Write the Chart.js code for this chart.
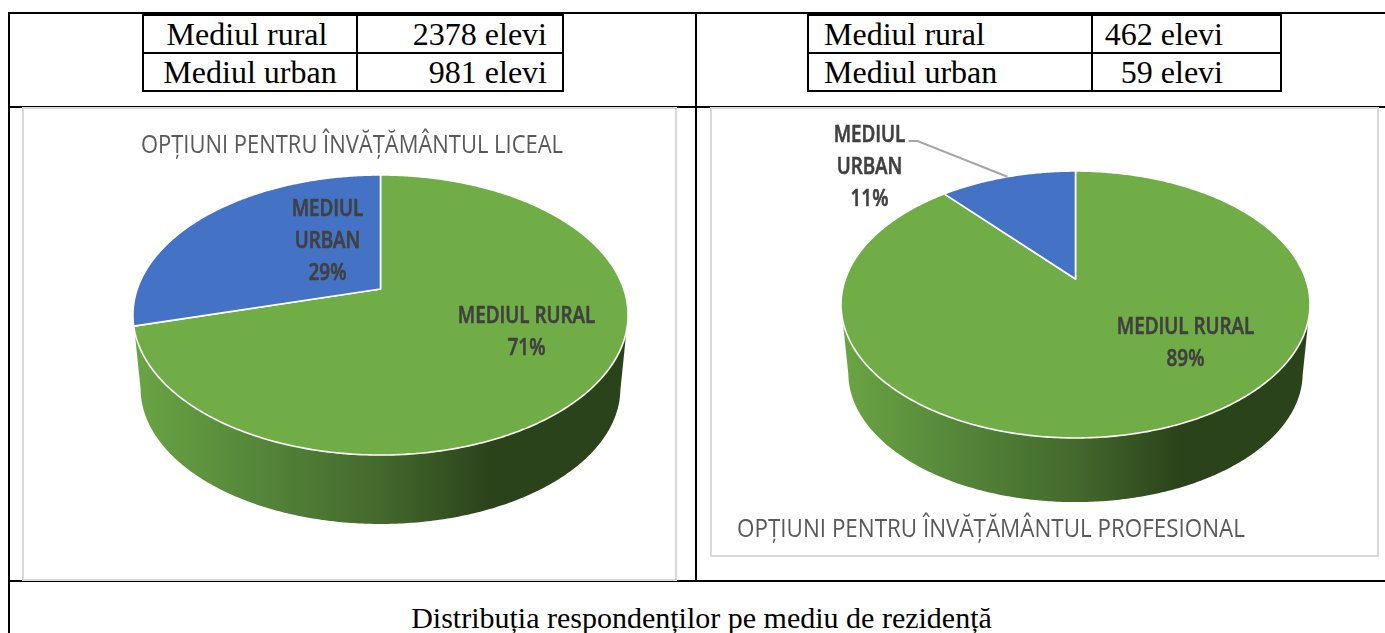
<!DOCTYPE html>
<html lang="ro">
<head>
    <meta charset="UTF-8">
    <title>Distribuția respondenților pe mediu de rezidență</title>
    <script src="https://cdn.jsdelivr.net/npm/chart.js"></script>
    <style>
        html, body {
            margin: 0;
            width: 1385px;
            height: 633px;
            overflow: hidden;
            background: #fff;
        }
        .line { position: absolute; background: #000; }
        .panel {
            position: absolute;
            box-sizing: border-box;
            border: 2px solid #d9d9d9;
            background: #fff;
        }
        canvas { position: absolute; }
        table.elevi {
            position: absolute;
            top: 14px;
            border-collapse: collapse;
            table-layout: fixed;
            font: 32px/36px "Liberation Serif", serif;
            color: #000;
        }
        table.elevi td {
            border: 2px solid #000;
            padding: 0 15px;
            height: 36px;
            white-space: nowrap;
        }
        #caption {
            position: absolute;
            left: 9px;
            width: 1385px;
            top: 600px;
            text-align: center;
            font: 30px/36px "Liberation Serif", serif;
        }
    </style>
</head>
<body>

    <!-- Chenarul tabelului mare -->
    <div class="line" style="left:8px;top:12px;width:1377px;height:2px"></div>
    <div class="line" style="left:8px;top:106px;width:1377px;height:2px"></div>
    <div class="line" style="left:8px;top:580px;width:1377px;height:2px"></div>
    <div class="line" style="left:8px;top:12px;width:2px;height:621px"></div>
    <div class="line" style="left:695px;top:12px;width:2px;height:570px"></div>

    <table class="elevi" style="left:142px;width:422px">
        <colgroup><col style="width:214px"><col></colgroup>
        <tr><td style="text-align:center;padding:0 6px 0 0">Mediul rural</td><td style="text-align:right">2378 elevi</td></tr>
        <tr><td style="text-align:center;padding:0">Mediul urban</td><td style="text-align:right">981 elevi</td></tr>
    </table>
    <table class="elevi" style="left:807px;width:475px">
        <colgroup><col style="width:284px"><col></colgroup>
        <tr><td>Mediul rural</td><td style="text-align:right;padding:0 57px 0 0">462 elevi</td></tr>
        <tr><td>Mediul urban</td><td style="text-align:right;padding:0 57px 0 0">59 elevi</td></tr>
    </table>

    <div class="panel" style="left:22px;top:107px;width:655px;height:474px"></div>
    <div class="panel" style="left:710px;top:107px;width:669px;height:450px"></div>

    <canvas id="pieLiceal" style="left:23px;top:108px"></canvas>
    <canvas id="pieProfesional" style="left:711px;top:108px"></canvas>

    <div id="caption">Distribuția respondenților pe mediu de rezidență</div>

    <script>
        // Datele citite din tabele
        const categorii = ["MEDIUL RURAL", "MEDIUL URBAN"];
        const elevLiceal = [2378, 981];
        const elevProfesional = [462, 59];
        const culori = ["#70ad47", "#4472c4"];
        const titluLiceal = "OPȚIUNI PENTRU ÎNVĂȚĂMÂNTUL LICEAL";
        const titluProfesional = "OPȚIUNI PENTRU ÎNVĂȚĂMÂNTUL PROFESIONAL";

        // Proiectie in perspectiva a unui punct de pe cercul placintei
        function proiectie(arc, t, unghi, scara = 1, jos = 0) {
            const u = Math.cos(unghi) * scara, v = Math.sin(unghi) * scara;
            const w = 1 - t.p * v;
            return [
                arc.x + arc.outerRadius * t.sx * u / w,
                arc.y + arc.outerRadius * t.sy * v / w + jos
            ];
        }

        function scrie(ctx, text, x, y, font, culoare, strans, contur = 0) {
            ctx.save();
            ctx.font = font;
            ctx.fillStyle = culoare;
            ctx.textAlign = "center";
            ctx.textBaseline = "middle";
            ctx.translate(x, y);
            ctx.scale(strans, 1);
            ctx.fillText(text, 0, 0);
            if (contur) {
                ctx.strokeStyle = culoare;
                ctx.lineWidth = contur;
                ctx.strokeText(text, 0, 0);
            }
            ctx.restore();
        }

        // Plugin: fata de sus in perspectiva, peretele lateral, texte
        const placinta3d = {
            id: "placinta3d",
            afterDatasetsUpdate(chart, args, opts) {
                const t = opts.tilt;
                chart.getDatasetMeta(0).data.forEach(arc => {
                    arc.draw = function (ctx) {
                        const pasi = Math.ceil((this.endAngle - this.startAngle) / 0.01);
                        ctx.save();
                        ctx.beginPath();
                        ctx.moveTo(this.x, this.y);
                        for (let i = 0; i <= pasi; i++) {
                            const a = this.startAngle + (this.endAngle - this.startAngle) * i / pasi;
                            const [px, py] = proiectie(this, t, a);
                            ctx.lineTo(px, py);
                        }
                        ctx.closePath();
                        ctx.fillStyle = this.options.backgroundColor;
                        ctx.fill();
                        ctx.lineWidth = 1.6;
                        ctx.strokeStyle = "#ffffff";
                        ctx.lineJoin = "round";
                        ctx.stroke();
                        ctx.restore();
                    };
                });
            },
            beforeDatasetsDraw(chart, args, opts) {
                const ctx = chart.ctx, t = opts.tilt;
                const arc = chart.getDatasetMeta(0).data[0];
                const lat = Math.asin(t.p);
                const stanga = proiectie(arc, t, Math.PI - lat)[0];
                const dreapta = proiectie(arc, t, lat)[0];
                const g = ctx.createLinearGradient(stanga, 0, dreapta, 0);
                g.addColorStop(0, "#6aa544");
                g.addColorStop(0.25, "#55863a");
                g.addColorStop(0.5, "#44692d");
                g.addColorStop(0.72, "#2b431a");
                g.addColorStop(1, "#2b431a");
                ctx.save();
                ctx.beginPath();
                ctx.moveTo(...proiectie(arc, t, Math.PI - lat));
                for (let a = Math.PI - lat; a >= lat; a -= 0.01) {
                    ctx.lineTo(...proiectie(arc, t, a, 0.97, t.adancime));
                }
                ctx.lineTo(...proiectie(arc, t, lat));
                ctx.closePath();
                ctx.fillStyle = g;
                ctx.fill();
                ctx.restore();
            },
            afterDraw(chart, args, opts) {
                const ctx = chart.ctx, t = opts.tilt;
                const arce = chart.getDatasetMeta(0).data;
                const valori = chart.data.datasets[0].data;
                const total = valori.reduce((s, v) => s + v, 0);
                const x0 = arce[0].x, y0 = arce[0].y;

                scrie(ctx, opts.titlu, opts.titluXY[0], opts.titluXY[1], '25px "Open Sans"', "#595959", opts.titluStrans);

                opts.etichete.forEach((e, i) => {
                    const procent = Math.round(valori[i] / total * 100) + "%";
                    const rand = e.rupt ? chart.data.labels[i].split(" ") : [chart.data.labels[i]];
                    rand.concat(procent).forEach((text, k) => {
                        scrie(ctx, text, x0 + e.x, y0 + e.y + k * 32, '600 23px "Open Sans"', "#404040", 0.82, 0.6);
                    });
                });

                if (opts.linie) {
                    const a = (arce[1].startAngle + arce[1].endAngle) / 2;
                    const capat = proiectie(arce[1], t, a);
                    ctx.save();
                    ctx.strokeStyle = "#a6a6a6";
                    ctx.lineWidth = 2;
                    ctx.beginPath();
                    ctx.moveTo(x0 + opts.linie[0], y0 + opts.linie[1]);
                    ctx.lineTo(x0 + opts.linie[2], y0 + opts.linie[1]);
                    ctx.lineTo(capat[0], capat[1]);
                    ctx.stroke();
                    ctx.restore();
                }
            }
        };

        function deseneaza(id, latime, inaltime, valori, padding, optiuni) {
            const canvas = document.getElementById(id);
            canvas.width = latime;
            canvas.height = inaltime;
            return new Chart(canvas, {
                type: "pie",
                data: {
                    labels: categorii,
                    datasets: [{ data: valori, backgroundColor: culori, borderWidth: 0 }]
                },
                plugins: [placinta3d],
                options: {
                    responsive: false,
                    animation: false,
                    layout: { padding },
                    plugins: {
                        legend: { display: false },
                        tooltip: { enabled: false },
                        placinta3d: optiuni
                    }
                }
            });
        }

        deseneaza("pieLiceal", 653, 472, elevLiceal,
            { left: 62, right: 0, top: 0, bottom: 110 },
            {
                tilt: { sx: 1.344, sy: 0.747, p: 0.1857, adancime: 75 },
                titlu: titluLiceal,
                titluXY: [329, 38],
                titluStrans: 0.878,
                etichete: [{ x: 146, y: 27 }, { x: -53, y: -80, rupt: true }]
            });

        deseneaza("pieProfesional", 667, 448, elevProfesional,
            { left: 62, right: 0, top: 0, bottom: 106 },
            {
                tilt: { sx: 1.346, sy: 0.752, p: 0.191, adancime: 70 },
                titlu: titluProfesional,
                titluXY: [280, 422],
                titluStrans: 0.896,
                etichete: [{ x: 110, y: 48 }, { x: -206, y: -144, rupt: true }],
                linie: [-167, -138, -158]
            });
    </script>

</body>
</html>
